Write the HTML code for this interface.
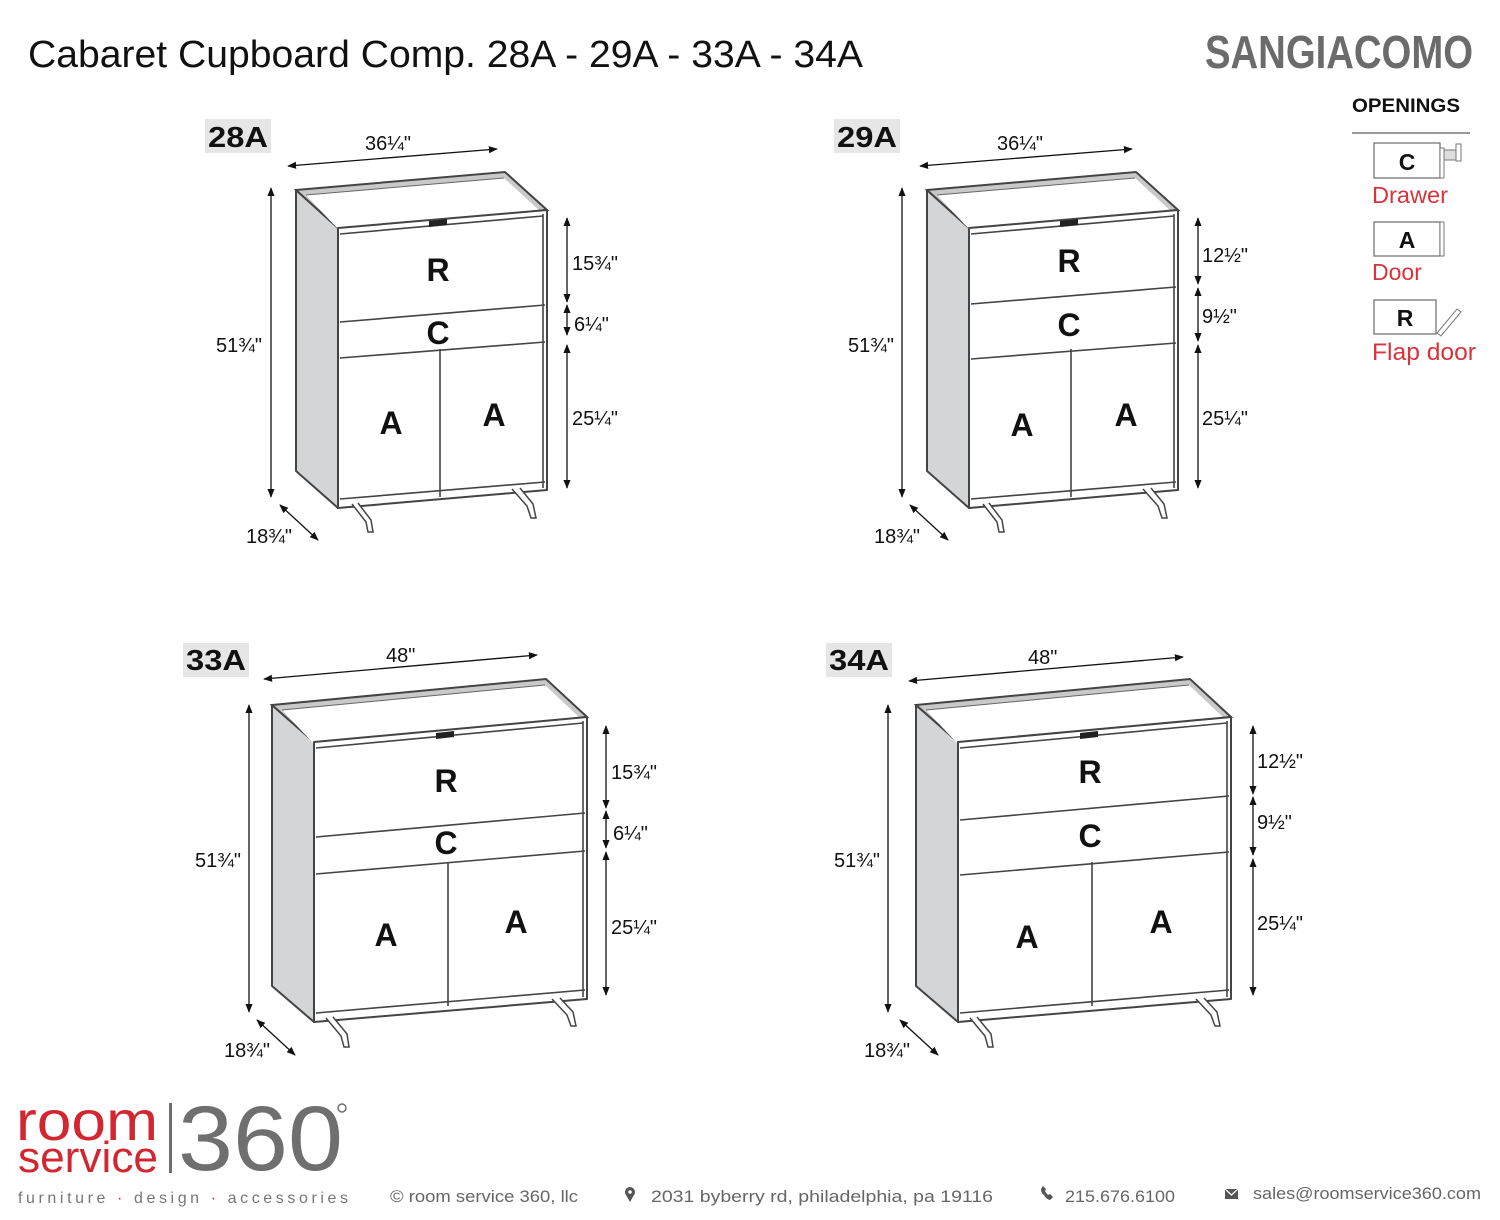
<!DOCTYPE html>
<html><head><meta charset="utf-8"><style>
html,body{margin:0;padding:0;background:#fff;}
svg{display:block;font-family:"Liberation Sans",sans-serif;}
.b{font-weight:bold;fill:#111;}
.d{font-size:20px;fill:#111;}
.f{fill:#fff;stroke:#444;stroke-width:2;stroke-linejoin:round}
.s{fill:#d4d5d7;stroke:#444;stroke-width:2;stroke-linejoin:round}
.l{stroke:#444;stroke-width:1.6;fill:none}
.a{stroke:#111;stroke-width:1.3;fill:none;marker-start:url(#ah);marker-end:url(#ah)}
</style></head><body>
<svg width="1500" height="1220" viewBox="0 0 1500 1220" xmlns="http://www.w3.org/2000/svg">
<defs>
<marker id="ah" viewBox="0 0 10 10" refX="9" refY="5" markerWidth="9" markerHeight="9" orient="auto-start-reverse" markerUnits="userSpaceOnUse"><path d="M0,1 L10,5 L0,9 z" fill="#111"/></marker>
<g id="cabS">
 <polygon class="s" points="296,190 338,228 338,508 296,471"/>
 <polygon points="296,190 505,172 547,210 338,228" fill="#c9c9c9" stroke="#444" stroke-width="2"/>
 <polygon points="306,195 504,178 541,212 338,229" fill="#fff"/>
 <line x1="306" y1="195" x2="504" y2="178" stroke="#666" stroke-width="1"/>
 <polygon class="f" points="338,228 547,210 547,490 338,508"/>
 <line class="l" x1="543" y1="214" x2="543" y2="488"/>
 <line class="l" x1="340" y1="234" x2="543" y2="216"/>
 <polygon points="429,221 447,219 447,225 429,227" fill="#222"/>
 <line class="l" x1="340" y1="499" x2="545" y2="482"/>
 <path d="M352,504 L366,522 L368,532 L373,532 L371,520 L358,503" fill="#fff" stroke="#444" stroke-width="1.5"/>
 <path d="M512,489 L527,506 L531,518 L536,518 L533,504 L520,488" fill="#fff" stroke="#444" stroke-width="1.5"/>
 <line class="l" x1="440" y1="349" x2="440" y2="497"/>
</g>
<g id="cabW">
 <polygon class="s" points="272,705 314,742 314,1022 272,986"/>
 <polygon points="272,705 546,679 587,717 314,742" fill="#c9c9c9" stroke="#444" stroke-width="2"/>
 <polygon points="282,710 545,685 581,719 314,744" fill="#fff"/>
 <line x1="282" y1="710" x2="545" y2="685" stroke="#666" stroke-width="1"/>
 <polygon class="f" points="314,742 587,717 587,999 314,1022"/>
 <line class="l" x1="583" y1="721" x2="583" y2="997"/>
 <line class="l" x1="316" y1="748" x2="583" y2="723"/>
 <polygon points="436,733 454,731 454,737 436,739" fill="#222"/>
 <line class="l" x1="316" y1="1013" x2="585" y2="990"/>
 <path d="M326,1018 L341,1036 L344,1047 L349,1047 L347,1034 L333,1017" fill="#fff" stroke="#444" stroke-width="1.5"/>
 <path d="M552,999 L567,1015 L571,1026 L576,1026 L573,1012 L560,998" fill="#fff" stroke="#444" stroke-width="1.5"/>
 <line class="l" x1="448" y1="862" x2="448" y2="1006"/>
</g>
</defs>

<text x="28" y="67" font-size="38" fill="#111" textLength="835" lengthAdjust="spacingAndGlyphs">Cabaret Cupboard Comp. 28A - 29A - 33A - 34A</text>
<text x="1205" y="68" font-size="46" font-weight="bold" fill="#6b6b6b" textLength="268" lengthAdjust="spacingAndGlyphs">SANGIACOMO</text>

<!-- 28A -->
<rect x="205" y="119" width="66" height="34" fill="#e6e6e6"/>
<text x="208" y="147" font-size="29" class="b" textLength="60" lengthAdjust="spacingAndGlyphs">28A</text>
<use href="#cabS"/>
<line class="l" x1="340" y1="322" x2="545" y2="305"/>
<line class="l" x1="340" y1="358" x2="545" y2="342"/>
<g font-size="32" class="b" text-anchor="middle"><text x="438" y="281">R</text><text x="438" y="344">C</text><text x="391" y="434">A</text><text x="494" y="426">A</text></g>
<line class="a" x1="288" y1="166" x2="497" y2="149"/>
<text class="d" x="365" y="150">36¼"</text>
<line class="a" x1="271" y1="188" x2="271" y2="497"/>
<text class="d" x="216" y="352">51¾"</text>
<line class="a" x1="567" y1="218" x2="567" y2="302"/>
<line class="a" x1="567" y1="305" x2="567" y2="335"/>
<line class="a" x1="567" y1="345" x2="567" y2="488"/>
<text class="d" x="572" y="270">15¾"</text>
<text class="d" x="574" y="331">6¼"</text>
<text class="d" x="572" y="425">25¼"</text>
<line class="a" x1="280" y1="505" x2="318" y2="540"/>
<text class="d" x="246" y="543">18¾"</text>

<!-- 29A -->
<rect x="834" y="119" width="66" height="34" fill="#e6e6e6"/>
<text x="837" y="147" font-size="29" class="b" textLength="60" lengthAdjust="spacingAndGlyphs">29A</text>
<use href="#cabS" transform="translate(631,0)"/>
<line class="l" x1="971" y1="304" x2="1176" y2="287"/>
<line class="l" x1="971" y1="359" x2="1176" y2="343"/>
<g font-size="32" class="b" text-anchor="middle"><text x="1069" y="272">R</text><text x="1069" y="336">C</text><text x="1022" y="436">A</text><text x="1126" y="426">A</text></g>
<line class="a" x1="920" y1="166" x2="1132" y2="149"/>
<text class="d" x="997" y="150">36¼"</text>
<line class="a" x1="902" y1="188" x2="902" y2="497"/>
<text class="d" x="848" y="352">51¾"</text>
<line class="a" x1="1198" y1="218" x2="1198" y2="284"/>
<line class="a" x1="1198" y1="288" x2="1198" y2="341"/>
<line class="a" x1="1198" y1="345" x2="1198" y2="488"/>
<text class="d" x="1202" y="262">12½"</text>
<text class="d" x="1202" y="323">9½"</text>
<text class="d" x="1202" y="425">25¼"</text>
<line class="a" x1="910" y1="505" x2="948" y2="540"/>
<text class="d" x="874" y="543">18¾"</text>

<!-- 33A -->
<rect x="183" y="643" width="66" height="34" fill="#e6e6e6"/>
<text x="186" y="670" font-size="29" class="b" textLength="60" lengthAdjust="spacingAndGlyphs">33A</text>
<use href="#cabW"/>
<line class="l" x1="316" y1="837" x2="585" y2="813"/>
<line class="l" x1="316" y1="874" x2="585" y2="851"/>
<g font-size="32" class="b" text-anchor="middle"><text x="446" y="792">R</text><text x="446" y="854">C</text><text x="386" y="946">A</text><text x="516" y="933">A</text></g>
<line class="a" x1="264" y1="679" x2="537" y2="655"/>
<text class="d" x="386" y="662">48"</text>
<line class="a" x1="249" y1="705" x2="249" y2="1012"/>
<text class="d" x="195" y="867">51¾"</text>
<line class="a" x1="606" y1="726" x2="606" y2="808"/>
<line class="a" x1="606" y1="811" x2="606" y2="848"/>
<line class="a" x1="606" y1="852" x2="606" y2="995"/>
<text class="d" x="611" y="779">15¾"</text>
<text class="d" x="613" y="840">6¼"</text>
<text class="d" x="611" y="934">25¼"</text>
<line class="a" x1="257" y1="1020" x2="295" y2="1055"/>
<text class="d" x="224" y="1057">18¾"</text>

<!-- 34A -->
<rect x="826" y="643" width="66" height="34" fill="#e6e6e6"/>
<text x="829" y="670" font-size="29" class="b" textLength="60" lengthAdjust="spacingAndGlyphs">34A</text>
<use href="#cabW" transform="translate(644,0)"/>
<line class="l" x1="960" y1="820" x2="1229" y2="796"/>
<line class="l" x1="960" y1="875" x2="1229" y2="852"/>
<g font-size="32" class="b" text-anchor="middle"><text x="1090" y="783">R</text><text x="1090" y="847">C</text><text x="1027" y="948">A</text><text x="1161" y="933">A</text></g>
<line class="a" x1="909" y1="681" x2="1183" y2="657"/>
<text class="d" x="1028" y="664">48"</text>
<line class="a" x1="888" y1="705" x2="888" y2="1012"/>
<text class="d" x="834" y="867">51¾"</text>
<line class="a" x1="1253" y1="726" x2="1253" y2="794"/>
<line class="a" x1="1253" y1="797" x2="1253" y2="855"/>
<line class="a" x1="1253" y1="859" x2="1253" y2="995"/>
<text class="d" x="1257" y="768">12½"</text>
<text class="d" x="1257" y="829">9½"</text>
<text class="d" x="1257" y="930">25¼"</text>
<line class="a" x1="900" y1="1020" x2="938" y2="1055"/>
<text class="d" x="864" y="1057">18¾"</text>

<!-- legend -->
<text x="1352" y="112" font-size="19" font-weight="bold" fill="#111" textLength="108" lengthAdjust="spacingAndGlyphs">OPENINGS</text>
<line x1="1352" y1="133" x2="1470" y2="133" stroke="#777" stroke-width="1.5"/>
<rect x="1374" y="143" width="66" height="35" fill="#fff" stroke="#777" stroke-width="1.3"/>
<rect x="1440" y="148" width="4" height="30" fill="#fff" stroke="#777"/>
<rect x="1444" y="150" width="12" height="10" fill="#ddd" stroke="#777"/>
<rect x="1456" y="144" width="5" height="17" fill="#fff" stroke="#777"/>
<text x="1407" y="170" font-size="23" class="b" text-anchor="middle">C</text>
<text x="1372" y="203" font-size="23" fill="#d9333b" textLength="76" lengthAdjust="spacingAndGlyphs">Drawer</text>
<rect x="1374" y="222" width="66" height="34" fill="#fff" stroke="#777" stroke-width="1.3"/>
<rect x="1440" y="222" width="4" height="34" fill="#fff" stroke="#777"/>
<text x="1407" y="248" font-size="23" class="b" text-anchor="middle">A</text>
<text x="1372" y="280" font-size="23" fill="#d9333b">Door</text>
<rect x="1374" y="300" width="62" height="34" fill="#fff" stroke="#777" stroke-width="1.3"/>
<polygon points="1437,333 1457,309 1461,312 1441,336" fill="#fff" stroke="#777"/>
<text x="1405" y="326" font-size="23" class="b" text-anchor="middle">R</text>
<text x="1372" y="360" font-size="24" fill="#d9333b" textLength="104" lengthAdjust="spacingAndGlyphs">Flap door</text>

<!-- footer -->
<text x="16" y="1140" font-size="56" fill="#d22630" textLength="142" lengthAdjust="spacingAndGlyphs">room</text>
<text x="18" y="1172" font-size="44" fill="#d22630" textLength="140" lengthAdjust="spacingAndGlyphs">service</text>
<rect x="169" y="1103" width="3" height="70" fill="#6f6f6f"/>
<text x="178" y="1170" font-size="92" fill="#6f6f6f" textLength="165" lengthAdjust="spacingAndGlyphs">360</text>
<circle cx="342" cy="1108" r="4" fill="none" stroke="#6f6f6f" stroke-width="1.5"/>
<text x="18" y="1203" font-size="16" fill="#777" textLength="330" lengthAdjust="spacing">furniture  <tspan fill="#d22630">·</tspan>  design  <tspan fill="#d22630">·</tspan>  accessories</text>
<text x="390" y="1202" font-size="17" fill="#666" textLength="188" lengthAdjust="spacingAndGlyphs">© room service 360, llc</text>
<circle cx="630" cy="1192" r="5" fill="#555"/><path d="M625.5,1194 L630,1202 L634.5,1194z" fill="#555"/><circle cx="630" cy="1192" r="1.8" fill="#fff"/>
<text x="651" y="1202" font-size="17" fill="#666" textLength="342" lengthAdjust="spacingAndGlyphs">2031 byberry rd, philadelphia, pa 19116</text>
<path d="M1044,1197 q2,4 6,5 l3,-3 l-3,-3 l-2,1 q-2,-2 -3,-4 l1,-2 l-3,-3 l-2,3 q0,4 3,6z" fill="#555" transform="translate(0,-2)"/>
<text x="1065" y="1202" font-size="17" fill="#666" textLength="110" lengthAdjust="spacingAndGlyphs">215.676.6100</text>
<rect x="1225" y="1189" width="13" height="10" fill="#555"/><path d="M1225,1189 L1231.5,1195 L1238,1189" stroke="#fff" stroke-width="1.2" fill="none"/>
<text x="1253" y="1199" font-size="17" fill="#666" textLength="228" lengthAdjust="spacingAndGlyphs">sales@roomservice360.com</text>
</svg>
</body></html>
